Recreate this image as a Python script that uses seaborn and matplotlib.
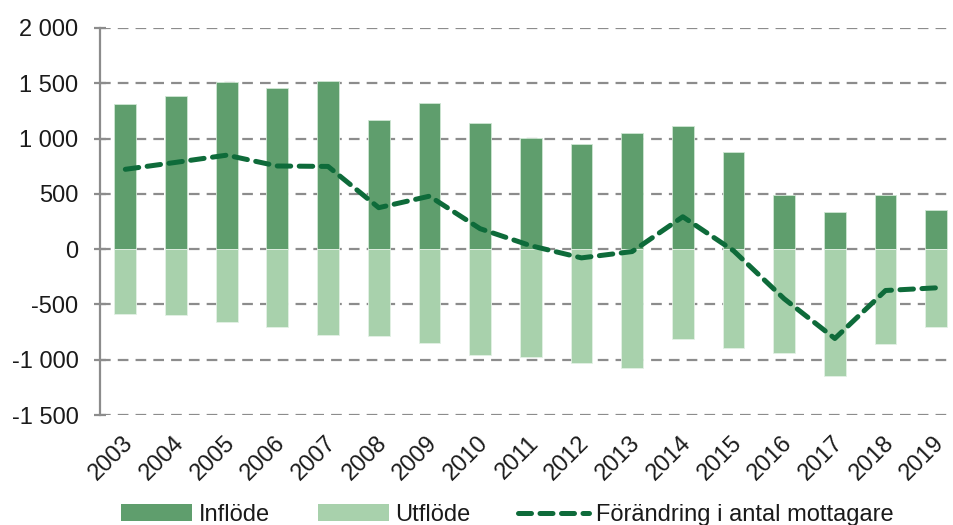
import numpy as np
import pandas as pd
import matplotlib
matplotlib.use("Agg")
import matplotlib.pyplot as plt
import matplotlib.transforms as mtransforms
import seaborn as sns
from matplotlib.ticker import FuncFormatter, MultipleLocator
from matplotlib.patches import Patch
from matplotlib.lines import Line2D

years = [str(y) for y in range(2003, 2020)]
inflow = [1310, 1385, 1510, 1460, 1520, 1165, 1325, 1140, 1005, 955, 1050, 1110, 878, 488, 335, 488, 352]
outflow = [-588, -600, -660, -708, -772, -790, -846, -955, -974, -1034, -1072, -817, -892, -937, -1143, -862, -702]
change = [722, 785, 850, 752, 748, 375, 479, 185, 31, -79, -22, 293, -14, -449, -808, -374, -350]
legend_labels = ["Inflöde", "Utflöde", "Förändring i antal mottagare"]

c_in = "#5f9e6d"
c_out = "#a8d1ac"
c_line = "#0e6b3a"

sns.set_theme(style="white")
plt.rcParams["font.family"] = ["Liberation Sans", "DejaVu Sans"]

fig = plt.figure(figsize=(9.54, 5.25), dpi=100)
ax = fig.add_axes([100/954, (525-415)/525, 854/954, (415-28)/525])

df = pd.DataFrame({"year": years, "inflow": inflow, "outflow": outflow, "change": change})
df["pos"] = np.arange(len(df))

sns.barplot(data=df, x="year", y="inflow", color=c_in, saturation=1, width=0.43,
            edgecolor="#cfe6d3", linewidth=0.6, ax=ax, zorder=2)
sns.barplot(data=df, x="year", y="outflow", color=c_out, saturation=1, width=0.43,
            edgecolor="#e3f1e5", linewidth=0.6, ax=ax, zorder=2)
sns.lineplot(data=df, x="pos", y="change", color=c_line, linewidth=3.6,
             dashes=False, ax=ax, zorder=3)
line = ax.lines[-1]
line.set_dashes([2.7, 1.7])
line.set_dash_capstyle("round")
line.set_solid_joinstyle("round")

ax.set_ylim(-1500, 2000)
ax.set_xlim(-0.5, -0.5 + 854/50.68)
ax.yaxis.set_major_locator(MultipleLocator(500))
ax.yaxis.set_major_formatter(FuncFormatter(lambda v, p: f"{v:,.0f}".replace(",", " ")))
ax.set_xlabel("")
ax.set_ylabel("")

ax.set_axisbelow(True)
ax.yaxis.grid(True, color="#8c8c8c", linestyle=(0, (4.8, 3.2)), linewidth=1.6)
ax.xaxis.grid(False)
for s in ["top", "right", "bottom"]:
    ax.spines[s].set_visible(False)
ax.spines["left"].set_color("#8c8c8c")
ax.spines["left"].set_linewidth(1.6)

ax.tick_params(axis="y", which="major", left=True, direction="inout", length=9, width=1.6,
               color="#8c8c8c", labelsize=17, labelcolor="#1a1a1a", pad=11)
ax.tick_params(axis="x", bottom=False, labelsize=17, labelcolor="#1a1a1a", pad=2)
offset = mtransforms.ScaledTranslation(-3/100, -6/100, fig.dpi_scale_trans)
for lbl in ax.get_xticklabels():
    lbl.set_rotation(45)
    lbl.set_ha("right")
    lbl.set_va("top")
    lbl.set_rotation_mode("anchor")
    lbl.set_transform(lbl.get_transform() + offset)

handles = [Patch(facecolor=c_in, edgecolor="none"),
           Patch(facecolor=c_out, edgecolor="none"),
           Line2D([0], [0], color=c_line, linewidth=3.6, dashes=[2.6, 1.7],
                  dash_capstyle="round")]
fig.legend(handles, legend_labels, loc="lower center", bbox_to_anchor=(0.532, -0.042),
           ncol=3, frameon=False, fontsize=17, handlelength=3.0, handleheight=0.7,
           handletextpad=0.3, columnspacing=2.0, labelcolor="#1a1a1a")

fig.savefig("out.png", dpi=100)
